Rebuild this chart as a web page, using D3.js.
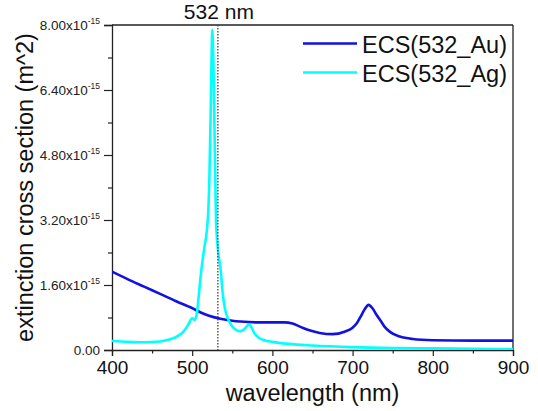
<!DOCTYPE html>
<html>
<head>
<meta charset="utf-8">
<script src="https://cdn.jsdelivr.net/npm/d3@7"></script>
<style>
  html, body { margin: 0; padding: 0; background: #fff; }
  svg { display: block; font-family: "Liberation Sans", Arial, sans-serif; }
</style>
</head>
<body>
<svg id="chart" width="538" height="411"></svg>
<script>
// values in units of 1e-15 m^2
const seriesNames = ["ECS(532_Au)", "ECS(532_Ag)"];
const seriesColors = ["#1212e0", "#00ffff"];
const auWavelength = [400,420,440,460,480,500,510,520,535,550,560,580,600,615,625,635,645,659,675,690,700,705,710,715,720,725,730,735,740,747,759,775,800,850,900];
const auECS = [1.93,1.74,1.56,1.38,1.20,1.03,0.93,0.85,0.77,0.72,0.70,0.68,0.68,0.68,0.65,0.57,0.49,0.42,0.39,0.45,0.55,0.65,0.82,1.00,1.11,1.02,0.86,0.72,0.57,0.44,0.33,0.27,0.24,0.23,0.23];
const agWavelength = [400,420,440,460,470,480,490,495,500,503,506,508,511,515,518,520,521.5,523,524,525,526.5,528,529.7,532,535.5,538,541,545,550,555,560,564,568,571,574,578,584,590,600,620,650,700,750,800,850,900];
const agECS = [0.22,0.20,0.19,0.21,0.25,0.32,0.47,0.62,0.78,0.74,0.92,1.3,1.9,2.5,2.9,3.4,4.3,5.8,7.0,7.88,7.0,5.2,3.2,2.5,1.97,1.4,1.0,0.75,0.58,0.49,0.46,0.50,0.58,0.64,0.55,0.40,0.29,0.24,0.20,0.15,0.11,0.07,0.05,0.04,0.03,0.02];
const xTicks = [400,500,600,700,800,900];
const xMinorTicks = [450,550,650,750,850];
const yTicks = [0,1.6,3.2,4.8,6.4,8.0];
const yTickLabels = ["0.00","1.60x10","3.20x10","4.80x10","6.40x10","8.00x10"];
const yMinorTicks = [0.8,2.4,4.0,5.6,7.2];
const markerWavelength = 532;
const markerLabel = "532 nm";
const xTitle = "wavelength (nm)";
const yTitle = "extinction cross section (m^2)";

const svg = d3.select("#chart");
const L = 112, R = 513, T = 25, B = 350;
const x = d3.scaleLinear().domain([400, 900]).range([L, R]);
const y = d3.scaleLinear().domain([0, 8]).range([B, T]);

// frame (top and right)
svg.append("line").attr("x1", L).attr("x2", R).attr("y1", T).attr("y2", T).attr("stroke", "#222").attr("stroke-width", 1.3);
svg.append("line").attr("x1", R).attr("x2", R).attr("y1", T).attr("y2", B).attr("stroke", "#222").attr("stroke-width", 1.3);

// x axis
const xAxis = svg.append("g").attr("transform", `translate(0,${B})`)
  .call(d3.axisBottom(x).tickValues(xTicks).tickSize(6).tickPadding(5).tickFormat(d3.format("d")));
xAxis.select(".domain").attr("stroke", "#222").attr("stroke-width", 1.3);
xAxis.selectAll(".tick line").attr("stroke", "#222").attr("stroke-width", 1.2);
xAxis.selectAll(".tick text").attr("font-size", 19).attr("fill", "#111").attr("font-family", "Liberation Sans, Arial, sans-serif");
const xMinor = svg.append("g").attr("transform", `translate(0,${B})`)
  .call(d3.axisBottom(x).tickValues(xMinorTicks).tickSize(3.5).tickFormat(""));
xMinor.select(".domain").remove();
xMinor.selectAll(".tick line").attr("stroke", "#222").attr("stroke-width", 1.2);

// y axis
const yAxis = svg.append("g").attr("transform", `translate(${L},0)`)
  .call(d3.axisLeft(y).tickValues(yTicks).tickSize(8).tickPadding(4).tickFormat(""));
yAxis.select(".domain").attr("stroke", "#222").attr("stroke-width", 1.3);
yAxis.selectAll(".tick line").attr("stroke", "#222").attr("stroke-width", 1.2);
yAxis.selectAll(".tick").each(function(d, i) {
  const t = d3.select(this).append("text")
    .attr("x", -12).attr("dy", "0.35em").attr("text-anchor", "end")
    .attr("font-size", 13.5).attr("fill", "#222").attr("font-family", "Liberation Sans, Arial, sans-serif");
  if (d === 0) {
    t.text(yTickLabels[i]);
  } else {
    t.append("tspan").text(yTickLabels[i]);
    t.append("tspan").attr("font-size", 8.5).attr("dy", "-0.75em").text("-15");
  }
});
const yMinor = svg.append("g").attr("transform", `translate(${L},0)`)
  .call(d3.axisLeft(y).tickValues(yMinorTicks).tickSize(4).tickFormat(""));
yMinor.select(".domain").remove();
yMinor.selectAll(".tick line").attr("stroke", "#222").attr("stroke-width", 1.2);

// clip
svg.append("clipPath").attr("id", "clip").append("rect").attr("x", L).attr("y", T - 2).attr("width", R - L).attr("height", B - T + 2);

const line = d3.line().x(d => x(d[0])).y(d => y(d[1])).curve(d3.curveMonotoneX);
const auData = auWavelength.map((w, i) => [w, auECS[i]]);
const agData = agWavelength.map((w, i) => [w, agECS[i]]);

const plot = svg.append("g").attr("clip-path", "url(#clip)");
plot.append("path").datum(auData).attr("d", line).attr("fill", "none").attr("stroke", seriesColors[0]).attr("stroke-width", 2.6);
plot.append("path").datum(agData).attr("d", line).attr("fill", "none").attr("stroke", seriesColors[1]).attr("stroke-width", 2.6);

// 532 nm marker
svg.append("line").attr("x1", x(markerWavelength)).attr("x2", x(markerWavelength)).attr("y1", T).attr("y2", B)
  .attr("stroke", "#444").attr("stroke-width", 1.3).attr("stroke-dasharray", "1.5,1.5");
svg.append("text").attr("x", x(markerWavelength) + 1).attr("y", 19).attr("text-anchor", "middle")
  .attr("font-size", 21).attr("fill", "#111").text(markerLabel);

// legend
const legY = [43.5, 72.5];
seriesNames.forEach((name, i) => {
  svg.append("line").attr("x1", 303).attr("x2", 357).attr("y1", legY[i]).attr("y2", legY[i])
    .attr("stroke", seriesColors[i]).attr("stroke-width", 2.6);
  svg.append("text").attr("x", 362).attr("y", legY[i] + 9).attr("font-size", 23.5).attr("fill", "#111").text(name);
});

// axis titles
svg.append("text").attr("x", (L + R) / 2).attr("y", 401).attr("text-anchor", "middle")
  .attr("font-size", 23.5).attr("fill", "#111").text(xTitle);
svg.append("text").attr("transform", `translate(33,${(T + B) / 2}) rotate(-90)`).attr("text-anchor", "middle")
  .attr("font-size", 23.5).attr("fill", "#111").text(yTitle);
</script>
</body>
</html>
